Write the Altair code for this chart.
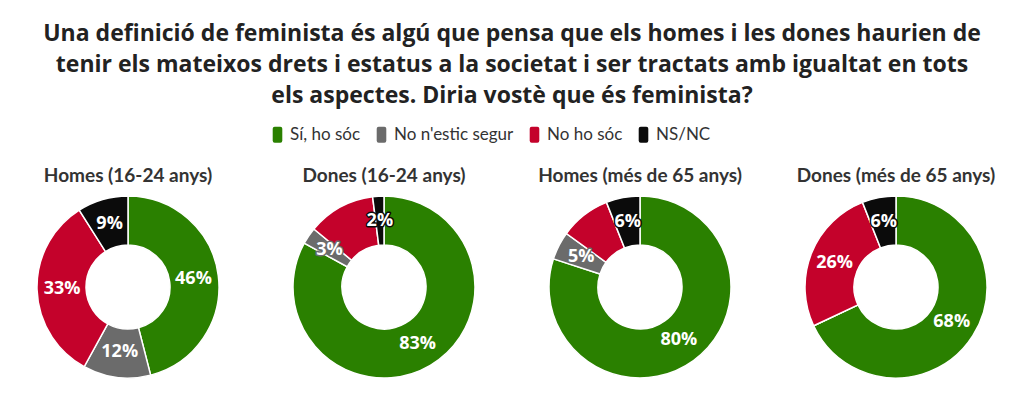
import altair as alt
import pandas as pd

title_lines = [
    "Una definició de feminista és algú que pensa que els homes i les dones haurien de",
    "tenir els mateixos drets i estatus a la societat i ser tractats amb igualtat en tots",
    "els aspectes. Diria vostè que és feminista?",
]
groups = ["Homes (16-24 anys)", "Dones (16-24 anys)", "Homes (més de 65 anys)", "Dones (més de 65 anys)"]
categories = ["Sí, ho sóc", "No n'estic segur", "No ho sóc", "NS/NC"]
colors = ["#2a8000", "#6b6b6b", "#c4022b", "#0b0b0b"]

homes_16_24 = [46, 12, 33, 9]
dones_16_24 = [83, 3, 12, 2]
homes_65 = [80, 5, 9, 6]
dones_65 = [68, 0, 26, 6]

shown_homes_16_24 = [True, True, True, True]
shown_dones_16_24 = [True, True, False, True]
shown_homes_65 = [True, True, False, True]
shown_dones_65 = [True, False, True, True]

series = [homes_16_24, dones_16_24, homes_65, dones_65]
shown = [shown_homes_16_24, shown_dones_16_24, shown_homes_65, shown_dones_65]

rows = []
for g, vals, flags in zip(groups, series, shown):
    for i, (c, v, f) in enumerate(zip(categories, vals, flags)):
        rows.append({"group": g, "category": c, "idx": i, "value": v,
                     "label": f"{v}%" if f else ""})
df = pd.DataFrame(rows)

color_scale = alt.Scale(domain=categories, range=colors)
legend_symbol = ("M-0.35,-1 H0.35 Q0.6,-1 0.6,-0.75 V0.75 Q0.6,1 0.35,1 "
                 "H-0.35 Q-0.6,1 -0.6,0.75 V-0.75 Q-0.6,-1 -0.35,-1 Z")


def panel(g):
    base = alt.Chart(df).transform_filter(alt.datum.group == g).encode(
        theta=alt.Theta("value:Q", stack=True),
        order=alt.Order("idx:Q", sort="ascending"),
    )
    arcs = base.mark_arc(innerRadius=42, outerRadius=91, stroke="white", strokeWidth=1.5).encode(
        color=alt.Color("category:N", scale=color_scale, sort=categories,
                        legend=alt.Legend(title=None, orient="none", direction="horizontal",
                                          legendX=261, legendY=-66,
                                          symbolType=legend_symbol, symbolSize=256,
                                          symbolStrokeWidth=0, labelFont="Lato",
                                          labelFontSize=17, labelColor="#333",
                                          labelOffset=4, columnPadding=12)),
    )
    outline = base.mark_text(radius=66, font="Open Sans", fontWeight="bold", fontSize=18,
                             strokeWidth=3, strokeJoin="round").encode(
        text="label:N",
        color=alt.Color("category:N", scale=color_scale, legend=None),
        stroke=alt.Stroke("category:N", scale=color_scale, legend=None),
    )
    text = base.mark_text(radius=66, font="Open Sans", fontWeight="bold", fontSize=18,
                          color="white").encode(text="label:N")
    return alt.layer(arcs, outline, text).properties(
        width=240, height=190,
        title=alt.TitleParams(g, font="Lato", fontSize=19, fontWeight="bold",
                              color="#333", offset=6, anchor="middle"),
    )


chart = alt.hconcat(*[panel(g) for g in groups], spacing=16).properties(
    padding={"left": 0, "top": 15, "right": 0, "bottom": 0},
    title=alt.TitleParams(title_lines, font="Open Sans", fontSize=23, fontWeight="bold",
                          color="#222", lineHeight=31, anchor="middle", offset=18),
).resolve_scale(color="shared").configure_view(stroke=None)

chart.save("out.html", embed_options={"renderer": "svg", "actions": False})
